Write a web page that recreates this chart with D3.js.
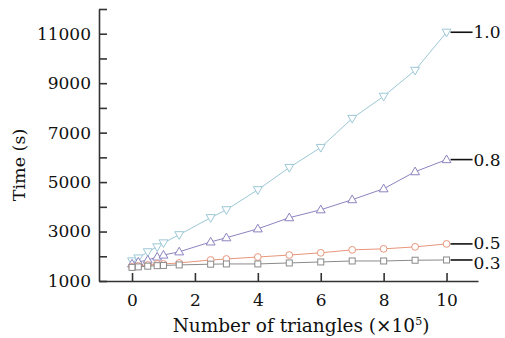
<!DOCTYPE html>
<html>
<head>
<meta charset="utf-8">
<script src="https://cdn.jsdelivr.net/npm/d3@7"></script>
<style>
  body { margin: 0; background: #fff; }
  svg { display: block; font-family: "DejaVu Serif", "Liberation Serif", serif; }
</style>
</head>
<body>
<svg id="chart" width="505" height="338"></svg>
<script>
// triangles (x10^5)
var xs = [0, 0.2, 0.5, 0.8, 1.0, 1.5, 2.5, 3, 4, 5, 6, 7, 8, 9, 10];
var t10 = [1810, 1930, 2180, 2380, 2540, 2870, 3560, 3880, 4690, 5590, 6400, 7575, 8470, 9520, 11060];
var t08 = [1690, 1770, 1850, 1970, 2050, 2180, 2580, 2750, 3110, 3560, 3880, 4290, 4730, 5420, 5910];
var t05 = [1570, 1610, 1650, 1690, 1690, 1730, 1850, 1890, 1970, 2050, 2140, 2260, 2300, 2380, 2500];
var t03 = [1550, 1570, 1600, 1620, 1630, 1650, 1680, 1690, 1690, 1730, 1770, 1810, 1810, 1840, 1850];
var seriesNames = ["1.0", "0.8", "0.5", "0.3"];
var xTicks = [0, 2, 4, 6, 8, 10];
var yTicks = [1000, 2000, 3000, 4000, 5000, 6000, 7000, 8000, 9000, 10000, 11000, 12000];

var svg = d3.select("#chart");
var font = "DejaVu Serif, Liberation Serif, serif";

var x = d3.scaleLinear().domain([-1.05, 11]).range([99, 478]);
var y = d3.scaleLinear().domain([1000, 12000]).range([281, 9]);

var series = [
  {name: seriesNames[0], vals: t10, color: "#9cc8d6", sym: "down", off: 0},
  {name: seriesNames[1], vals: t08, color: "#8c84bf", sym: "up", off: 0},
  {name: seriesNames[2], vals: t05, color: "#e8967c", sym: "circle", off: -1},
  {name: seriesNames[3], vals: t03, color: "#8a8a8a", sym: "square", off: 3}
];

// axes
var gx = svg.append("g")
    .attr("transform", "translate(0," + y(1000) + ")")
    .call(d3.axisBottom(x).tickValues(xTicks).tickSizeInner(-8).tickSizeOuter(0).tickPadding(13));
var gy = svg.append("g")
    .attr("transform", "translate(" + x(-1.05) + ",0)")
    .call(d3.axisLeft(y).tickValues(yTicks).tickSizeInner(-8).tickSizeOuter(0).tickPadding(8)
      .tickFormat(function(d) { return (d / 1000) % 2 === 1 ? d : ""; }));

[gx, gy].forEach(function(g) {
  g.select(".domain").attr("stroke", "#333").attr("stroke-width", 1.6);
  g.selectAll(".tick line").attr("stroke", "#333").attr("stroke-width", 1.6);
  g.selectAll(".tick text").attr("fill", "#111").style("font-size", "17px")
    .style("font-family", font);
});

// lines
var line = d3.line()
    .x(function(d, i) { return x(xs[i]); })
    .y(function(d) { return y(d); });

series.forEach(function(s) {
  svg.append("path")
      .datum(s.vals)
      .attr("fill", "none")
      .attr("stroke", s.color)
      .attr("stroke-width", 1)
      .attr("d", line);

  var g = svg.append("g");
  s.vals.forEach(function(v, i) {
    var cx = x(xs[i]), cy = y(v);
    if (s.sym === "circle") {
      g.append("circle").attr("cx", cx).attr("cy", cy).attr("r", 3.4)
        .attr("fill", "#fff").attr("stroke", s.color).attr("stroke-width", 1);
    } else if (s.sym === "square") {
      g.append("rect").attr("x", cx - 3).attr("y", cy - 3).attr("width", 6).attr("height", 6)
        .attr("fill", "#fff").attr("stroke", s.color).attr("stroke-width", 1);
    } else {
      var rot = s.sym === "down" ? 180 : 0;
      g.append("path")
        .attr("d", d3.symbol().type(d3.symbolTriangle).size(34)())
        .attr("transform", "translate(" + cx + "," + (cy + (s.sym === "down" ? -0.5 : 0.5)) + ") rotate(" + rot + ")")
        .attr("fill", "#fff").attr("stroke", s.color).attr("stroke-width", 1);
    }
  });

  // end label with leader line
  var last = s.vals[s.vals.length - 1];
  var ly = y(last);
  svg.append("line")
      .attr("x1", x(10) + 4).attr("x2", x(10) + 26)
      .attr("y1", ly).attr("y2", ly)
      .attr("stroke", "#111").attr("stroke-width", 1.6);
  svg.append("text")
      .attr("x", x(10) + 27)
      .attr("y", ly + s.off)
      .attr("dy", "0.36em")
      .attr("fill", "#111")
      .style("font-size", "17px")
      .text(s.name);
});

// axis titles
svg.append("text")
    .attr("transform", "translate(25,165) rotate(-90)")
    .attr("text-anchor", "middle")
    .attr("fill", "#111")
    .style("font-size", "17.5px")
    .text("Time (s)");

var xl = svg.append("text")
    .attr("x", 301)
    .attr("y", 332)
    .attr("text-anchor", "middle")
    .attr("fill", "#111")
    .style("font-size", "18.5px");
xl.append("tspan").text("Number of triangles (\u00d710");
xl.append("tspan").attr("dy", -7).style("font-size", "11px").text("5");
xl.append("tspan").attr("dy", 7).text(")");
</script>
</body>
</html>
